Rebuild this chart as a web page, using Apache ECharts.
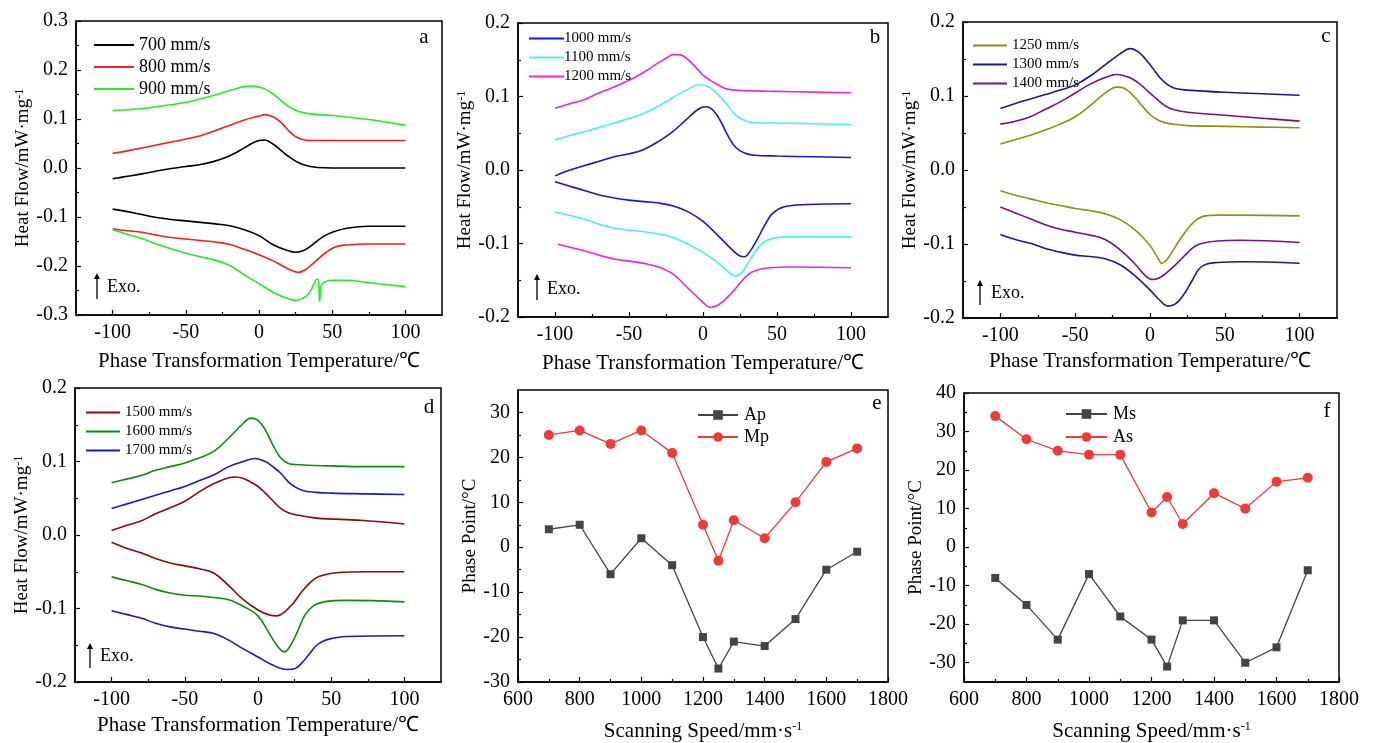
<!DOCTYPE html>
<html><head><meta charset="utf-8">
<script src="https://cdn.jsdelivr.net/npm/echarts@6/dist/echarts.min.js"></script>
<style>html,body{margin:0;padding:0;background:#fff}#c{width:1377px;height:743px}</style>
</head><body><div id="c"></div>
<script>
// ---------- Data ----------
// Panel a
const a700c=[[-100,-0.022],[-90,-0.017],[-80,-0.012],[-70,-0.006],[-60,-0.001],[-50,0.003],[-40,0.007],[-30,0.014],[-20,0.025],[-10,0.041],[-5,0.050],[0,0.056],[4,0.057],[10,0.048],[15,0.036],[20,0.024],[25,0.014],[30,0.007],[35,0.003],[40,0.001],[50,0],[75,0],[100,0]];
const a700h=[[-100,-0.084],[-90,-0.089],[-80,-0.095],[-70,-0.101],[-60,-0.105],[-50,-0.108],[-40,-0.111],[-30,-0.114],[-20,-0.118],[-10,-0.126],[0,-0.138],[10,-0.157],[20,-0.169],[25,-0.172],[30,-0.169],[35,-0.160],[40,-0.148],[45,-0.138],[50,-0.131],[60,-0.123],[75,-0.119],[100,-0.119]];
const a800c=[[-100,0.030],[-90,0.035],[-80,0.041],[-70,0.047],[-60,0.053],[-50,0.059],[-40,0.066],[-30,0.076],[-20,0.087],[-10,0.098],[0,0.106],[4,0.109],[10,0.104],[15,0.093],[20,0.077],[25,0.064],[30,0.058],[35,0.056],[50,0.056],[75,0.056],[100,0.056]];
const a800h=[[-100,-0.124],[-90,-0.128],[-80,-0.131],[-70,-0.137],[-60,-0.142],[-50,-0.145],[-40,-0.148],[-30,-0.151],[-20,-0.156],[-10,-0.166],[0,-0.177],[10,-0.190],[20,-0.206],[27,-0.213],[32,-0.207],[38,-0.192],[45,-0.174],[52,-0.161],[60,-0.157],[75,-0.155],[100,-0.155]];
const a900c=[[-100,0.117],[-90,0.119],[-80,0.121],[-70,0.125],[-60,0.129],[-50,0.134],[-40,0.141],[-30,0.149],[-20,0.158],[-10,0.166],[-5,0.167],[0,0.165],[5,0.160],[10,0.150],[15,0.138],[20,0.126],[25,0.118],[30,0.113],[40,0.109],[50,0.107],[75,0.099],[100,0.087]];
const a900h=[[-100,-0.126],[-90,-0.135],[-80,-0.144],[-70,-0.155],[-60,-0.165],[-50,-0.174],[-40,-0.181],[-30,-0.188],[-20,-0.199],[-10,-0.218],[0,-0.236],[10,-0.254],[20,-0.267],[25,-0.270],[30,-0.266],[34,-0.256],[37.5,-0.237],[39.5,-0.227],[40.5,-0.228],[41.4,-0.272],[42.5,-0.240],[45,-0.232],[50,-0.229],[60,-0.229],[75,-0.234],[100,-0.242]];
// Panel b
const b1000c=[[-100,-0.008],[-90,0.000],[-80,0.006],[-70,0.012],[-60,0.018],[-50,0.022],[-40,0.028],[-30,0.039],[-20,0.053],[-10,0.071],[-3,0.083],[2,0.086],[7,0.081],[12,0.066],[17,0.046],[22,0.031],[28,0.023],[35,0.020],[50,0.019],[75,0.018],[100,0.017]];
const b1000h=[[-100,-0.016],[-90,-0.022],[-80,-0.028],[-70,-0.034],[-60,-0.038],[-50,-0.041],[-40,-0.043],[-30,-0.045],[-20,-0.049],[-10,-0.057],[0,-0.070],[10,-0.089],[20,-0.109],[25,-0.117],[28,-0.118],[32,-0.110],[37,-0.093],[42,-0.074],[47,-0.059],[55,-0.050],[70,-0.047],[100,-0.046]];
const b1100c=[[-100,0.041],[-90,0.047],[-80,0.052],[-70,0.058],[-60,0.064],[-50,0.070],[-40,0.077],[-30,0.087],[-20,0.099],[-10,0.110],[-3,0.116],[3,0.114],[8,0.107],[15,0.092],[22,0.075],[30,0.066],[40,0.064],[50,0.064],[75,0.063],[100,0.062]];
const b1100h=[[-100,-0.057],[-90,-0.062],[-80,-0.067],[-70,-0.074],[-60,-0.079],[-50,-0.082],[-40,-0.084],[-30,-0.087],[-20,-0.092],[-10,-0.101],[0,-0.112],[10,-0.126],[18,-0.140],[22,-0.144],[26,-0.140],[30,-0.128],[35,-0.112],[40,-0.100],[47,-0.093],[60,-0.091],[100,-0.091]];
const b1200c=[[-100,0.084],[-90,0.090],[-80,0.096],[-70,0.105],[-60,0.113],[-50,0.122],[-40,0.133],[-30,0.146],[-25,0.152],[-20,0.157],[-16,0.157],[-10,0.150],[-5,0.140],[0,0.129],[5,0.122],[10,0.116],[15,0.111],[20,0.109],[30,0.108],[50,0.107],[75,0.106],[100,0.105]];
const b1200h=[[-98,-0.101],[-90,-0.105],[-80,-0.110],[-70,-0.116],[-60,-0.121],[-50,-0.124],[-40,-0.127],[-30,-0.132],[-20,-0.142],[-10,-0.161],[0,-0.180],[5,-0.187],[10,-0.184],[15,-0.176],[20,-0.166],[25,-0.154],[30,-0.143],[35,-0.137],[45,-0.133],[60,-0.132],[100,-0.133]];
// Panel c
const c1250c=[[-100,0.035],[-90,0.041],[-80,0.047],[-70,0.054],[-60,0.062],[-50,0.072],[-40,0.087],[-30,0.104],[-22,0.112],[-18,0.111],[-10,0.098],[-5,0.086],[0,0.075],[5,0.068],[10,0.064],[15,0.062],[25,0.060],[50,0.059],[75,0.058],[100,0.057]];
const c1250h=[[-100,-0.028],[-90,-0.034],[-80,-0.039],[-70,-0.044],[-60,-0.048],[-50,-0.052],[-40,-0.055],[-30,-0.059],[-20,-0.067],[-10,-0.081],[0,-0.102],[5,-0.118],[8,-0.126],[11,-0.122],[15,-0.110],[20,-0.094],[25,-0.080],[30,-0.069],[35,-0.063],[45,-0.061],[60,-0.061],[100,-0.062]];
const c1300c=[[-100,0.083],[-90,0.090],[-80,0.096],[-70,0.102],[-60,0.108],[-50,0.115],[-40,0.127],[-30,0.142],[-20,0.157],[-13,0.164],[-8,0.160],[-3,0.150],[2,0.137],[7,0.124],[12,0.115],[17,0.110],[25,0.108],[50,0.105],[75,0.103],[100,0.101]];
const c1300h=[[-100,-0.087],[-90,-0.094],[-80,-0.099],[-70,-0.106],[-60,-0.111],[-50,-0.115],[-40,-0.117],[-30,-0.120],[-20,-0.128],[-10,-0.143],[0,-0.162],[6,-0.175],[12,-0.184],[17,-0.181],[22,-0.170],[28,-0.150],[33,-0.133],[38,-0.127],[45,-0.125],[60,-0.124],[100,-0.126]];
const c1400c=[[-100,0.062],[-90,0.066],[-80,0.072],[-70,0.082],[-60,0.092],[-50,0.104],[-40,0.116],[-30,0.125],[-22,0.129],[-15,0.126],[-10,0.121],[-5,0.113],[0,0.104],[5,0.095],[10,0.087],[15,0.082],[25,0.078],[50,0.074],[75,0.070],[100,0.066]];
const c1400h=[[-100,-0.050],[-90,-0.058],[-80,-0.066],[-70,-0.074],[-60,-0.080],[-50,-0.084],[-40,-0.088],[-30,-0.094],[-20,-0.108],[-10,-0.127],[-3,-0.143],[2,-0.148],[7,-0.145],[15,-0.132],[25,-0.112],[30,-0.103],[35,-0.099],[45,-0.096],[60,-0.095],[100,-0.098]];
// Panel d
const d1500c=[[-100,0.006],[-90,0.013],[-80,0.019],[-70,0.029],[-60,0.037],[-50,0.046],[-40,0.059],[-30,0.070],[-20,0.078],[-15,0.079],[-10,0.077],[-5,0.072],[0,0.066],[5,0.057],[10,0.047],[15,0.037],[20,0.031],[25,0.028],[40,0.023],[70,0.020],[100,0.015]];
const d1500h=[[-100,-0.010],[-90,-0.018],[-80,-0.024],[-70,-0.032],[-60,-0.038],[-50,-0.042],[-40,-0.046],[-30,-0.052],[-20,-0.069],[-10,-0.088],[0,-0.102],[8,-0.109],[13,-0.110],[18,-0.105],[24,-0.093],[30,-0.077],[36,-0.064],[42,-0.056],[55,-0.051],[75,-0.050],[100,-0.050]];
const d1600c=[[-100,0.071],[-90,0.076],[-80,0.081],[-70,0.088],[-60,0.093],[-50,0.098],[-40,0.105],[-30,0.114],[-20,0.132],[-10,0.152],[-5,0.159],[0,0.156],[5,0.143],[10,0.123],[15,0.106],[20,0.098],[25,0.096],[50,0.094],[75,0.093],[100,0.093]];
const d1600h=[[-100,-0.057],[-90,-0.062],[-80,-0.067],[-70,-0.074],[-60,-0.079],[-50,-0.082],[-40,-0.083],[-30,-0.085],[-20,-0.088],[-10,-0.097],[0,-0.110],[8,-0.135],[14,-0.153],[18,-0.159],[22,-0.151],[27,-0.131],[32,-0.109],[38,-0.096],[45,-0.091],[60,-0.089],[100,-0.091]];
const d1700c=[[-100,0.036],[-90,0.042],[-80,0.048],[-70,0.054],[-60,0.060],[-50,0.066],[-40,0.074],[-30,0.082],[-20,0.093],[-10,0.100],[-2,0.104],[5,0.100],[10,0.093],[15,0.085],[22,0.070],[30,0.061],[40,0.058],[50,0.057],[75,0.056],[100,0.055]];
const d1700h=[[-100,-0.103],[-90,-0.108],[-80,-0.113],[-70,-0.120],[-60,-0.125],[-50,-0.128],[-40,-0.131],[-30,-0.134],[-20,-0.143],[-10,-0.155],[0,-0.166],[10,-0.177],[20,-0.183],[25,-0.182],[30,-0.174],[35,-0.162],[40,-0.150],[45,-0.144],[50,-0.141],[60,-0.138],[100,-0.137]];
// Panels e, f
const speeds=[700,800,900,1000,1100,1200,1250,1300,1400,1500,1600,1700];
const Ap=[4,5,-6,2,-4,-20,-27,-21,-22,-16,-5,-1];
const Mp=[25,26,23,26,21,5,-3,6,2,10,19,22];
const Ms=[-8,-15,-24,-7,-18,-24,-31,-19,-19,-30,-26,-6];
const As=[34,28,25,24,24,9,13,6,14,10,17,18];
// Tick labels
const tempTicks=[-100,-50,0,50,100];
const tempMinor=[-75,-25,25,75];
const hfTicksA=[-0.3,-0.2,-0.1,0,0.1,0.2,0.3];
const hfMinorA=[-0.25,-0.15,-0.05,0.05,0.15,0.25];
const hfTicks=[-0.2,-0.1,0,0.1,0.2];
const hfMinor=[-0.15,-0.05,0.05,0.15];
const speedTicks=[600,800,1000,1200,1400,1600,1800];
const speedMinor=[700,900,1100,1300,1500,1700];
const ppTicksE=[-30,-20,-10,0,10,20,30];
const ppMinorE=[-25,-15,-5,5,15,25];
const ppTicksF=[-30,-20,-10,0,10,20,30,40];
const ppMinorF=[-25,-15,-5,5,15,25,35];

// ---------- Layout ----------
const F='Liberation Serif';
const grids=[
 {left:76,top:21,width:366,height:294},
 {left:518,top:23,width:370,height:294},
 {left:963,top:22,width:374,height:296},
 {left:75,top:388,width:366,height:294},
 {left:518,top:390,width:370,height:297},
 {left:964,top:393,width:375,height:296}
].map(g=>Object.assign(g,{show:true,borderColor:'#000',borderWidth:1.5,containLabel:false}));

const xTitleT='Phase Transformation Temperature/℃';
const yTitleH='Heat Flow/mW·mg{s|-1}';
const xTitleS='Scanning Speed/mm·s{s|-1}';
const yTitleP='Phase Point/°C';
const rich={s:{fontSize:12,fontFamily:F,verticalAlign:'top',lineHeight:14,color:'#000'}};

function mainX(gi,min,max,ticks,name,gap,fmt){return {type:'value',gridIndex:gi,position:'bottom',min,max,
 axisLine:{show:true,onZero:false,lineStyle:{color:'#000',width:1.5}},
 axisTick:{show:true,inside:true,length:5,customValues:ticks,lineStyle:{color:'#000',width:1.2}},
 axisLabel:{customValues:ticks,margin:8,fontSize:20,fontFamily:F,color:'#000',formatter:fmt||(v=>String(v))},
 splitLine:{show:false},name,nameLocation:'middle',nameGap:gap,
 nameTextStyle:{fontSize:21,fontFamily:F,color:'#000',rich}};}
function minorX(gi,min,max,ticks){return {type:'value',gridIndex:gi,position:'bottom',min,max,
 axisLine:{show:false,onZero:false},axisTick:{show:true,inside:true,length:3,customValues:ticks,lineStyle:{color:'#000',width:1.2}},
 axisLabel:{show:false},splitLine:{show:false}};}
function mainY(gi,min,max,ticks,name,gap,fmt){return {type:'value',gridIndex:gi,position:'left',min,max,
 axisLine:{show:true,onZero:false,lineStyle:{color:'#000',width:1.5}},
 axisTick:{show:true,inside:true,length:5,customValues:ticks,lineStyle:{color:'#000',width:1.2}},
 axisLabel:{customValues:ticks,margin:8,fontSize:20,fontFamily:F,color:'#000',formatter:fmt||(v=>String(v))},
 splitLine:{show:false},name,nameLocation:'middle',nameGap:gap,
 nameTextStyle:{fontSize:19,fontFamily:F,color:'#000',rich}};}
function minorY(gi,min,max,ticks){return {type:'value',gridIndex:gi,position:'left',min,max,
 axisLine:{show:false,onZero:false},axisTick:{show:true,inside:true,length:3,customValues:ticks,lineStyle:{color:'#000',width:1.2}},
 axisLabel:{show:false},splitLine:{show:false}};}
const f1=v=>v.toFixed(1);

const xAxis=[
 mainX(0,-125,125,tempTicks,xTitleT,36),
 mainX(1,-125,125,tempTicks,xTitleT,36),
 mainX(2,-125,125,tempTicks,xTitleT,33),
 mainX(3,-125,125,tempTicks,xTitleT,33),
 mainX(4,600,1800,speedTicks,xTitleS,39),
 mainX(5,600,1800,speedTicks,xTitleS,39),
 minorX(0,-125,125,tempMinor),minorX(1,-125,125,tempMinor),minorX(2,-125,125,tempMinor),minorX(3,-125,125,tempMinor),
 minorX(4,600,1800,speedMinor),minorX(5,600,1800,speedMinor)
];
const yAxis=[
 mainY(0,-0.3,0.3,hfTicksA,yTitleH,42,f1),
 mainY(1,-0.2,0.2,hfTicks,yTitleH,42,f1),
 mainY(2,-0.2,0.2,hfTicks,yTitleH,42,f1),
 mainY(3,-0.2,0.2,hfTicks,yTitleH,42,f1),
 mainY(4,-30,35,ppTicksE,yTitleP,33),
 mainY(5,-35,40,ppTicksF,yTitleP,38),
 minorY(0,-0.3,0.3,hfMinorA),minorY(1,-0.2,0.2,hfMinor),minorY(2,-0.2,0.2,hfMinor),minorY(3,-0.2,0.2,hfMinor),
 minorY(4,-30,35,ppMinorE),minorY(5,-35,40,ppMinorF)
];

function dsc(name,data,color,i){return {type:'line',name,data,xAxisIndex:i,yAxisIndex:i,showSymbol:false,symbol:'none',
 smooth:0.4,lineStyle:{color,width:1.6},itemStyle:{color},silent:true};}
function pts(name,ys,color,symbol,size,i){return {type:'line',name,data:speeds.map((s,k)=>[s,ys[k]]),xAxisIndex:i,yAxisIndex:i,
 symbol,symbolSize:size,showSymbol:true,lineStyle:{color,width:1.3},itemStyle:{color},silent:true};}

const C={k:'#000000',r:'#ff1a1a',g:'#22ee22',b1:'#1515e0',cy:'#4cf0f0',mg:'#ee22ee',ol:'#8f8f10',nv:'#1a1a90',pu:'#800d80',dr:'#8e0a0a',dg:'#0c8c0c',bl:'#1818c8',gr:'#444444',rd:'#f03a3a'};
const series=[
 dsc('700 mm/s',a700c,C.k,0),dsc('700 mm/s',a700h,C.k,0),
 dsc('800 mm/s',a800c,C.r,0),dsc('800 mm/s',a800h,C.r,0),
 dsc('900 mm/s',a900c,C.g,0),dsc('900 mm/s',a900h,C.g,0),
 dsc('1000 mm/s',b1000c,C.b1,1),dsc('1000 mm/s',b1000h,C.b1,1),
 dsc('1100 mm/s',b1100c,C.cy,1),dsc('1100 mm/s',b1100h,C.cy,1),
 dsc('1200 mm/s',b1200c,C.mg,1),dsc('1200 mm/s',b1200h,C.mg,1),
 dsc('1250 mm/s',c1250c,C.ol,2),dsc('1250 mm/s',c1250h,C.ol,2),
 dsc('1300 mm/s',c1300c,C.nv,2),dsc('1300 mm/s',c1300h,C.nv,2),
 dsc('1400 mm/s',c1400c,C.pu,2),dsc('1400 mm/s',c1400h,C.pu,2),
 dsc('1500 mm/s',d1500c,C.dr,3),dsc('1500 mm/s',d1500h,C.dr,3),
 dsc('1600 mm/s',d1600c,C.dg,3),dsc('1600 mm/s',d1600h,C.dg,3),
 dsc('1700 mm/s',d1700c,C.bl,3),dsc('1700 mm/s',d1700h,C.bl,3),
 pts('Ap',Ap,C.gr,'rect',8,4),pts('Mp',Mp,C.rd,'circle',10,4),
 pts('Ms',Ms,C.gr,'rect',8,5),pts('As',As,C.rd,'circle',10,5)
];

function lg(data,left,top,w,fs,gap,tgap,lineOnly){const o={data,left,top,orient:'vertical',itemWidth:w,itemHeight:lineOnly?2:12,itemGap:gap,
 textStyle:{fontSize:fs,lineHeight:fs,fontFamily:F,color:'#000',padding:[0,0,0,tgap-5]},selectedMode:false,backgroundColor:'transparent'};
 if(lineOnly)o.icon='rect';return o;}
const legend=[
 lg(['700 mm/s','800 mm/s','900 mm/s'],89,31,40,18,4,5,true),
 lg(['1000 mm/s','1100 mm/s','1200 mm/s'],524,26,35,15,4,0,true),
 lg(['1250 mm/s','1300 mm/s','1400 mm/s'],968,33,34,15,4,5,true),
 lg(['1500 mm/s','1600 mm/s','1700 mm/s'],81,400,34,15,4,5,true),
 lg(['Ap','Mp'],692,401,40,18,4,6,false),
 lg(['Ms','As'],1060,400,41,18,5,6,false)
];

function exo(x,y1,y2,tx,ty){return [
 {type:'line',shape:{x1:x,y1:y1,x2:x,y2:y2+5},style:{stroke:'#000',lineWidth:1.3}},
 {type:'polygon',shape:{points:[[x-3,y2+6],[x+3,y2+6],[x,y2]]},style:{fill:'#000'}},
 {type:'text',x:tx,y:ty,style:{text:'Exo.',font:'18px "Liberation Serif"',fill:'#000',verticalAlign:'middle'}}];}
function letter(t,x,y){return {type:'text',x,y,style:{text:t,font:'21px "Liberation Serif"',fill:'#000',align:'center',verticalAlign:'middle'}};}
const graphic=[].concat(
 exo(97,299,273,107,287),exo(537,300,274,547,289),exo(980,305,280,991,293),exo(90,668,643,100,656),
 [letter('a',424,37),letter('b',875,37),letter('c',1326,36),letter('d',429,407),letter('e',877,403),letter('f',1327,411)]
);

const chart=echarts.init(document.getElementById('c'),null,{renderer:'canvas'});
chart.setOption({animation:false,backgroundColor:'#fff',grid:grids,xAxis,yAxis,series,legend,graphic});
</script></body></html>
